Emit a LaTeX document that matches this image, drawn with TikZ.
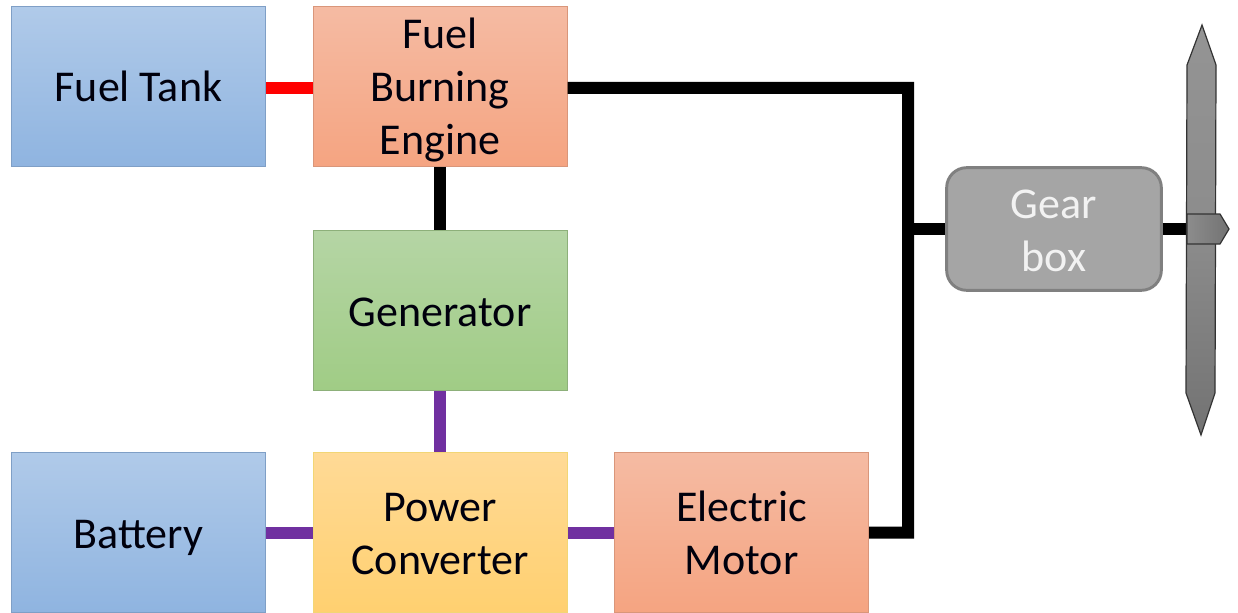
\documentclass[tikz,border=0pt]{standalone}
\usepackage{fontspec}
\setmainfont{Carlito}
\usetikzlibrary{positioning}

\definecolor{linepurple}{HTML}{7030A0}
\definecolor{blueedge}{HTML}{7F9FC6}
\definecolor{orangeedge}{HTML}{D9967A}
\definecolor{greenedge}{HTML}{8DB07A}
\definecolor{yellowedge}{HTML}{F2D675}
\newcommand{\linestrut}{\rule[-8.25pt]{0pt}{39.75pt}}
\tikzset{
  block/.style={rectangle, inner sep=0pt, align=center, text=black!95!blue,
    minimum width=190.5pt, minimum height=120pt, line width=0.75pt,
    font=\fontsize{33}{39.75}\selectfont,
    execute at end node=\linestrut},
  bluebox/.style={block, draw=blueedge, top color={rgb,255:red,176;green,202;blue,233}, bottom color={rgb,255:red,143;green,180;blue,224}},
  orangebox/.style={block, draw=orangeedge, top color={rgb,255:red,245;green,187;blue,163}, bottom color={rgb,255:red,245;green,164;blue,129}},
  greenbox/.style={block, draw=greenedge, top color={rgb,255:red,181;green,213;blue,165}, bottom color={rgb,255:red,160;green,204;blue,133}},
  yellowbox/.style={block, draw=yellowedge, top color={rgb,255:red,255;green,218;blue,150}, bottom color={rgb,255:red,255;green,208;blue,112}},
  gearbox/.style={block, rounded corners=15pt, minimum width=161pt, minimum height=92pt,
    draw={rgb,255:red,128;green,128;blue,128}, line width=2.2pt, fill={rgb,255:red,165;green,165;blue,165}, text={rgb,255:red,242;green,242;blue,242}},
  shaft/.style={line width=9pt, black},
  fuel/.style={line width=9pt, red},
  power/.style={line width=9pt, linepurple},
  bladepart/.style={draw=black!80, line width=0.9pt, line join=miter}
}

\begin{document}
\begin{tikzpicture}[x=0.75pt,y=-0.75pt]

\useasboundingbox (0, 0) rectangle (1238, 613);

% top row
\node [bluebox] (tank) at (138.5, 86.5) {Fuel Tank};
\node [orangebox] (engine) at (440, 86.5) {\linestrut Fuel\\Burning\\Engine};

\node [greenbox] (generator) at (440, 310.5) {Generator};

% bottom row
\node [bluebox] (battery) at (138.5, 532.5) {Battery};
\node [yellowbox] (converter) at (440, 532.5) {\linestrut Power\\Converter};
\node [orangebox] (motor) at (741.5, 532.5) {\linestrut Electric\\Motor};

\node [gearbox] (gear) at (1054, 229) {\linestrut Gear\\box};

\coordinate (bendtop) at (908, 88);
\coordinate (bendlow) at (908, 532.5);
\coordinate (hub) at (1187, 229);

\draw [fuel] ([yshift=-1.1pt]tank.east) -- ([yshift=-1.1pt]engine.west);
\draw [shaft] (engine) -- (generator);
\draw [power] (generator) -- (converter);
\draw [power] (battery) -- (converter);
\draw [power] (converter) -- (motor);

\draw [shaft, line join=miter] ([yshift=-1.1pt]engine.east) -- (bendtop) -- (bendlow) -- (motor.east);
\draw [shaft] (gear.west) -- (gear.west -| bendtop);
\draw [shaft] (gear.east) -- (hub);

% propeller
\draw [bladepart, top color=black!42, bottom color=black!55, middle color=black!45]
  (1202, 25) -- (1216, 65) -- (1215, 393) -- (1201, 435) -- (1186, 393) -- (1187, 65) -- cycle;
\draw [bladepart, left color=black!45, right color=black!55]
  (1187, 214) -- (1220, 214) -- (1229, 229) -- (1220, 244) -- (1187, 244) -- cycle;

\end{tikzpicture}
\end{document}
